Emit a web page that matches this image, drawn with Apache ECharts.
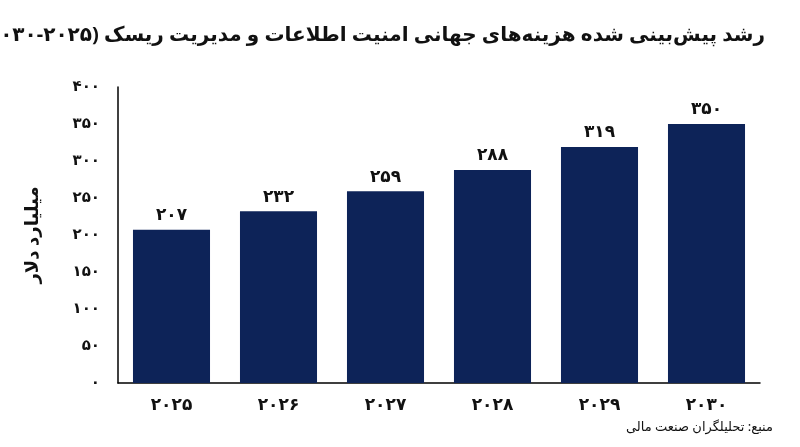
<!DOCTYPE html>
<html><head><meta charset="utf-8">
<script src="https://cdn.jsdelivr.net/npm/echarts@6/dist/echarts.min.js"></script>
<style>html,body{margin:0;padding:0;background:#fff}#c{width:800px;height:447px}</style>
</head><body><div id="c"></div>
<script>
const categories = ['2025','2026','2027','2028','2029','2030'];
const values = [207,232,259,288,319,350];
const yTicks = [0,50,100,150,200,250,300,350,400];
const fa = s => String(s).replace(/[0-9]/g, d => '۰۱۲۳۴۵۶۷۸۹'[d]);
const font = '"Noto Sans", "DejaVu Sans", sans-serif';
const chart = echarts.init(document.getElementById('c'));
chart.setOption({
  textStyle:{fontFamily:font},
  title:[{text:'رشد پیش‌بینی شده هزینه‌های جهانی امنیت اطلاعات و مدیریت ریسک (' + fa('2025-2030') + ')',
    right:30, top:20, textStyle:{fontSize:20, fontWeight:'bold', color:'#111', fontFamily:font}},
    {text:'منبع: تحلیلگران صنعت مالی', right:22, bottom:8, textStyle:{fontSize:13, fontWeight:'normal', color:'#111', fontFamily:font}}],
  grid:{left:118, right:40, top:87, bottom:64},
  xAxis:{type:'category', data:categories,
    axisLine:{lineStyle:{color:'#000', width:1.5}}, axisTick:{show:false},
    axisLabel:{formatter:v=>fa(v), fontSize:17, fontWeight:'bold', color:'#111', margin:14}},
  yAxis:{type:'value', min:yTicks[0], max:yTicks[yTicks.length-1], interval:50,
    name:'میلیارد دلار', nameLocation:'middle', nameGap:76, nameRotate:90,
    nameTextStyle:{fontSize:18, fontWeight:'bold', color:'#111'},
    axisLine:{show:true, lineStyle:{color:'#000', width:1.5}}, axisTick:{show:false},
    splitLine:{show:false},
    axisLabel:{formatter:v=>fa(v), fontSize:15, fontWeight:'bold', color:'#111', margin:18}},
  series:[{type:'bar', data:values, barWidth:'72%',
    itemStyle:{color:'#0d2358'},
    label:{show:true, position:'top', formatter:p=>fa(p.value), fontSize:17, fontWeight:'bold', color:'#111', distance:6}}]
});
</script></body></html>
